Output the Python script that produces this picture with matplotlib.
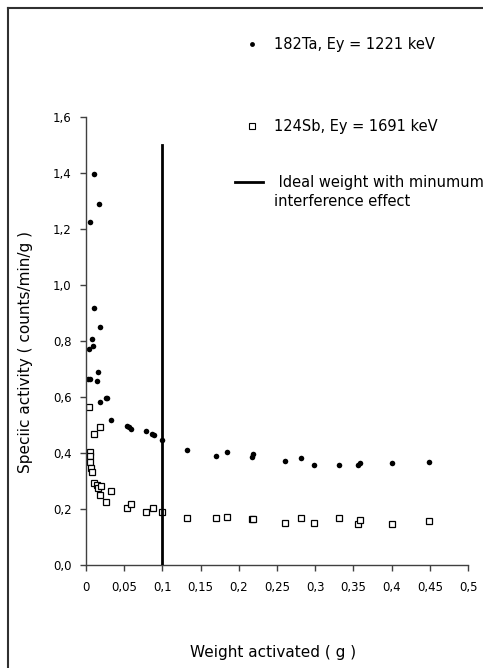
import matplotlib
matplotlib.use("Agg")
import matplotlib.pyplot as plt
from matplotlib.lines import Line2D

plt.rcParams['font.family'] = ['DejaVu Sans']

# 182Ta, Ey = 1221 keV
ta_x = [0.0099, 0.0174, 0.0056, 0.0099, 0.0187, 0.0078, 0.0091, 0.0034, 0.0047, 0.0020,
        0.0157, 0.0144, 0.0178, 0.0261, 0.0275, 0.0330, 0.0536, 0.0557, 0.0590, 0.0780,
        0.0863, 0.0890, 0.1000, 0.1320, 0.1700, 0.1840, 0.2170, 0.2190, 0.2605, 0.2810,
        0.2980, 0.3315, 0.3560, 0.3590, 0.4000, 0.4490]
ta_y = [1.395, 1.290, 1.224, 0.919, 0.850, 0.807, 0.782, 0.770, 0.663, 0.663,
        0.688, 0.657, 0.581, 0.595, 0.598, 0.519, 0.498, 0.494, 0.486, 0.478,
        0.467, 0.465, 0.445, 0.410, 0.389, 0.404, 0.386, 0.398, 0.373, 0.381,
        0.357, 0.357, 0.357, 0.363, 0.363, 0.368]

# 124Sb, Ey = 1691 keV
sb_x = [0.0043, 0.0099, 0.0178, 0.0056, 0.0056, 0.0047, 0.0069, 0.0082, 0.0099, 0.0144,
        0.0157, 0.0200, 0.0178, 0.0330, 0.0265, 0.0540, 0.0590, 0.0780, 0.0876, 0.1000,
        0.1320, 0.1700, 0.1840, 0.2170, 0.2190, 0.2605, 0.2810, 0.2980, 0.3315, 0.3555,
        0.3590, 0.4000, 0.4490]
sb_y = [0.563, 0.467, 0.492, 0.403, 0.389, 0.369, 0.345, 0.333, 0.292, 0.286,
        0.274, 0.282, 0.250, 0.265, 0.224, 0.205, 0.218, 0.188, 0.203, 0.188,
        0.167, 0.167, 0.173, 0.163, 0.165, 0.151, 0.167, 0.151, 0.167, 0.146,
        0.161, 0.146, 0.157]

# Ideal weight line
ideal_x = [0.1, 0.1]
ideal_y = [0.0, 1.5]

x_ticks = [0, 0.05, 0.1, 0.15, 0.2, 0.25, 0.3, 0.35, 0.4, 0.45, 0.5]
x_ticklabels = ["0", "0,05", "0,1", "0,15", "0,2", "0,25", "0,3", "0,35", "0,4", "0,45", "0,5"]
y_ticks = [0.0, 0.2, 0.4, 0.6, 0.8, 1.0, 1.2, 1.4, 1.6]
y_ticklabels = ["0,0", "0,2", "0,4", "0,6", "0,8", "1,0", "1,2", "1,4", "1,6"]

label_ta = "182Ta, Ey = 1221 keV"
label_sb = "124Sb, Ey = 1691 keV"
label_line = " Ideal weight with minumum\ninterference effect"

W, H = 483, 668
fig = plt.figure(figsize=(W / 100, H / 100), dpi=100)
ax = fig.add_axes([86 / W, 1 - 565 / H, (468 - 86) / W, (565 - 117) / H])

ax.plot(ideal_x, ideal_y, color="black", lw=2.0, zorder=3)
ax.plot(ta_x, ta_y, linestyle="none", marker="o", ms=4.0, color="black",
        markeredgewidth=0, zorder=2)
ax.plot(sb_x, sb_y, linestyle="none", marker="s", ms=4.8, markerfacecolor="white",
        markeredgecolor="black", markeredgewidth=0.9, zorder=2)

ax.set_xlim(0, 0.5)
ax.set_ylim(0, 1.6)
ax.set_xticks(x_ticks)
ax.set_xticklabels(x_ticklabels)
ax.set_yticks(y_ticks)
ax.set_yticklabels(y_ticklabels)

for s in ["top", "right"]:
    ax.spines[s].set_visible(False)
for s in ["left", "bottom"]:
    ax.spines[s].set_color("#404040")
    ax.spines[s].set_linewidth(1.0)
ax.tick_params(axis="both", direction="out", length=4.5, width=1.0, color="#404040",
               labelsize=8.5, labelcolor="black")
ax.tick_params(axis="x", pad=7)
ax.tick_params(axis="y", pad=6)

ax.set_xlabel("Weight activated ( g )", fontsize=11)
ax.set_ylabel("Speciic activity ( counts/min/g )", fontsize=11)
ax.xaxis.set_label_coords(0.49, -0.178)
ax.yaxis.set_label_coords(-0.139, 0.475)

# legend (drawn manually in figure pixel space)
def fx(px):
    return px / W

def fy(py):
    return 1 - py / H

fig.add_artist(Line2D([fx(252)], [fy(44)], marker="o", ms=3.5, color="black",
                      markeredgewidth=0, linestyle="none"))
fig.text(fx(274), fy(44), label_ta, fontsize=10.5, va="center", ha="left")
fig.add_artist(Line2D([fx(252)], [fy(126)], marker="s", ms=4, markerfacecolor="white",
                      markeredgecolor="black", markeredgewidth=0.8, linestyle="none"))
fig.text(fx(274), fy(126), label_sb, fontsize=10.5, va="center", ha="left")
fig.add_artist(Line2D([fx(235), fx(263)], [fy(182), fy(182)], color="black", lw=2.0))
fig.text(fx(274), fy(182) + 7 / H, label_line, fontsize=10.5, va="top", ha="left",
         linespacing=1.3)

# outer chart frame
fig.add_artist(Line2D([fx(8), fx(8)], [fy(8), 0], color="#303030", lw=1.5))
fig.add_artist(Line2D([fx(8), 1], [fy(8), fy(8)], color="#303030", lw=1.5))

fig.savefig("out.png", dpi=100)
